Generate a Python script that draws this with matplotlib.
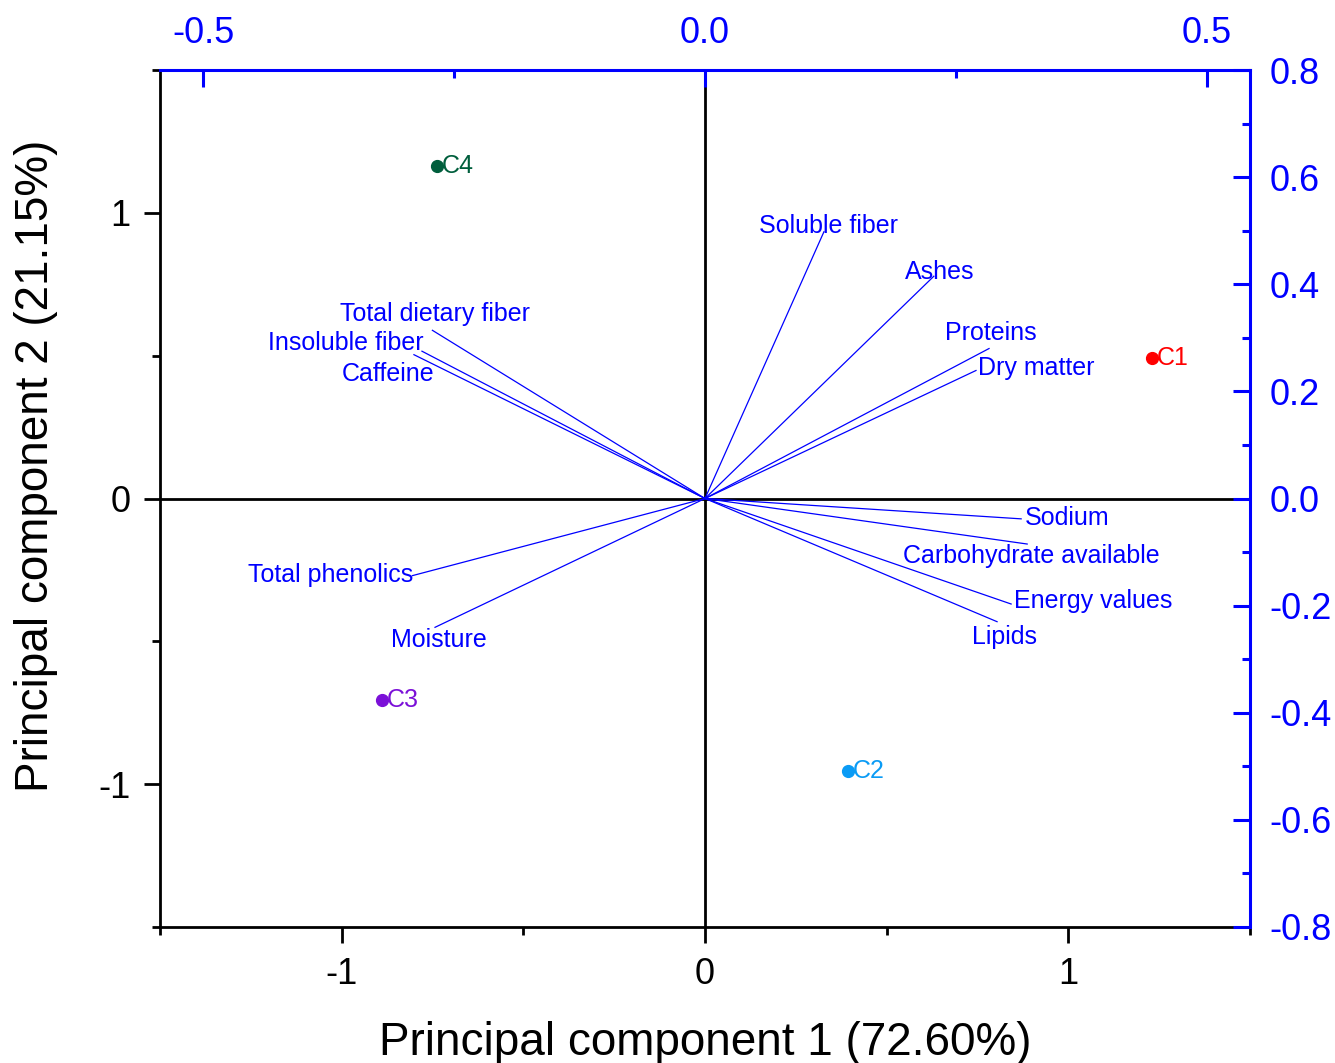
import matplotlib.pyplot as plt
from matplotlib.ticker import MultipleLocator, FormatStrFormatter

plt.rcParams['font.family'] = ['Liberation Sans', 'DejaVu Sans']
plt.rcParams['axes.unicode_minus'] = False

# scores (bottom / left axes)
samples = ["C1", "C2", "C3", "C4"]
pc1_scores = [1.229, 0.394, -0.890, -0.738]
pc2_scores = [0.493, -0.955, -0.706, 1.164]
sample_colors = ["#FF0000", "#0A9BF5", "#7B10D8", "#005E3C"]

# loadings (top / right axes)
variables = ["Soluble fiber", "Ashes", "Proteins", "Dry matter", "Sodium",
             "Carbohydrate available", "Energy values", "Lipids",
             "Total phenolics", "Moisture", "Total dietary fiber",
             "Insoluble fiber", "Caffeine"]
pc1_load = [0.1185, 0.228, 0.283, 0.270, 0.315, 0.321, 0.305, 0.291,
            -0.2915, -0.269, -0.2716, -0.282, -0.290]
pc2_load = [0.498, 0.415, 0.280, 0.239, -0.038, -0.085, -0.197, -0.230,
            -0.144, -0.2405, 0.314, 0.275, 0.2685]

# label placement: (dx px, dy px, ha, va)
label_pos = {
    "Soluble fiber": (5, -6, "center", "bottom"),
    "Ashes": (6, 4, "center", "center"),
    "Proteins": (2, 16, "center", "center"),
    "Dry matter": (2, 2, "left", "center"),
    "Sodium": (4, 1, "left", "center"),
    "Carbohydrate available": (4, -12, "center", "center"),
    "Energy values": (3, 3, "left", "center"),
    "Lipids": (7, -15, "center", "center"),
    "Total phenolics": (1, 1, "right", "center"),
    "Moisture": (4, -13, "center", "center"),
    "Total dietary fiber": (3, 16, "center", "center"),
    "Insoluble fiber": (2, 8, "right", "center"),
    "Caffeine": (-26, -19, "center", "center"),
}

blue = "#0000FF"
fig = plt.figure(figsize=(13.35, 10.63), dpi=100)
pos = [160 / 1335, 1 - 927 / 1063, 1090 / 1335, 857 / 1063]
ax = fig.add_axes(pos)
ax.set_xlim(-1.5, 1.5)
ax.set_ylim(-1.5, 1.5)
ax.spines['top'].set_visible(False)
ax.spines['right'].set_visible(False)
for s in ['left', 'bottom']:
    ax.spines[s].set_linewidth(2.0)
ax.axhline(0, color='black', lw=2.0, zorder=1)
ax.axvline(0, color='black', lw=2.0, zorder=1)
ax.xaxis.set_major_locator(MultipleLocator(1))
ax.xaxis.set_minor_locator(MultipleLocator(0.5))
ax.yaxis.set_major_locator(MultipleLocator(1))
ax.yaxis.set_minor_locator(MultipleLocator(0.5))
ax.tick_params(which='major', direction='out', length=11.5, width=2.0,
               labelsize=26, pad=10)
ax.tick_params(which='minor', direction='out', length=6, width=2.0)
ax.set_xlabel("Principal component 1 (72.60%)", fontsize=33, labelpad=21)
ax.set_ylabel("Principal component 2 (21.15%)", fontsize=33, labelpad=29)
ax.yaxis.label.set_y(0.538)

for name, x, y, c in zip(samples, pc1_scores, pc2_scores, sample_colors):
    ax.plot(x, y, 'o', color=c, ms=8.5, zorder=3)
    ax.annotate(name, (x, y), xytext=(5, 0), textcoords='offset pixels',
                color=c, fontsize=18, ha='left', va='center')

ax2 = fig.add_axes(pos, facecolor='none')
ax2.set_xlim(-0.543, 0.543)
ax2.set_ylim(-0.8, 0.8)
ax2.xaxis.tick_top()
ax2.yaxis.tick_right()
ax2.spines['left'].set_visible(False)
ax2.spines['bottom'].set_visible(False)
for s in ['top', 'right']:
    ax2.spines[s].set_color(blue)
    ax2.spines[s].set_linewidth(2.2)
ax2.xaxis.set_major_locator(MultipleLocator(0.5))
ax2.xaxis.set_minor_locator(MultipleLocator(0.25))
ax2.yaxis.set_major_locator(MultipleLocator(0.2))
ax2.yaxis.set_minor_locator(MultipleLocator(0.1))
ax2.xaxis.set_major_formatter(FormatStrFormatter('%.1f'))
ax2.yaxis.set_major_formatter(FormatStrFormatter('%.1f'))
ax2.tick_params(which='major', direction='in', length=12, width=2.2,
                color=blue, labelcolor=blue, labelsize=26)
ax2.tick_params(axis='x', which='major', pad=14)
ax2.tick_params(axis='y', which='major', pad=14)
ax2.tick_params(which='minor', direction='in', length=6, width=2.2, color=blue)

for name, x, y in zip(variables, pc1_load, pc2_load):
    ax2.plot([0, x], [0, y], color=blue, lw=0.9)
    dx, dy, ha, va = label_pos[name]
    ax2.annotate(name, (x, y), xytext=(dx, dy), textcoords='offset pixels',
                 color=blue, fontsize=18, ha=ha, va=va)

fig.savefig("out.png", dpi=100)
